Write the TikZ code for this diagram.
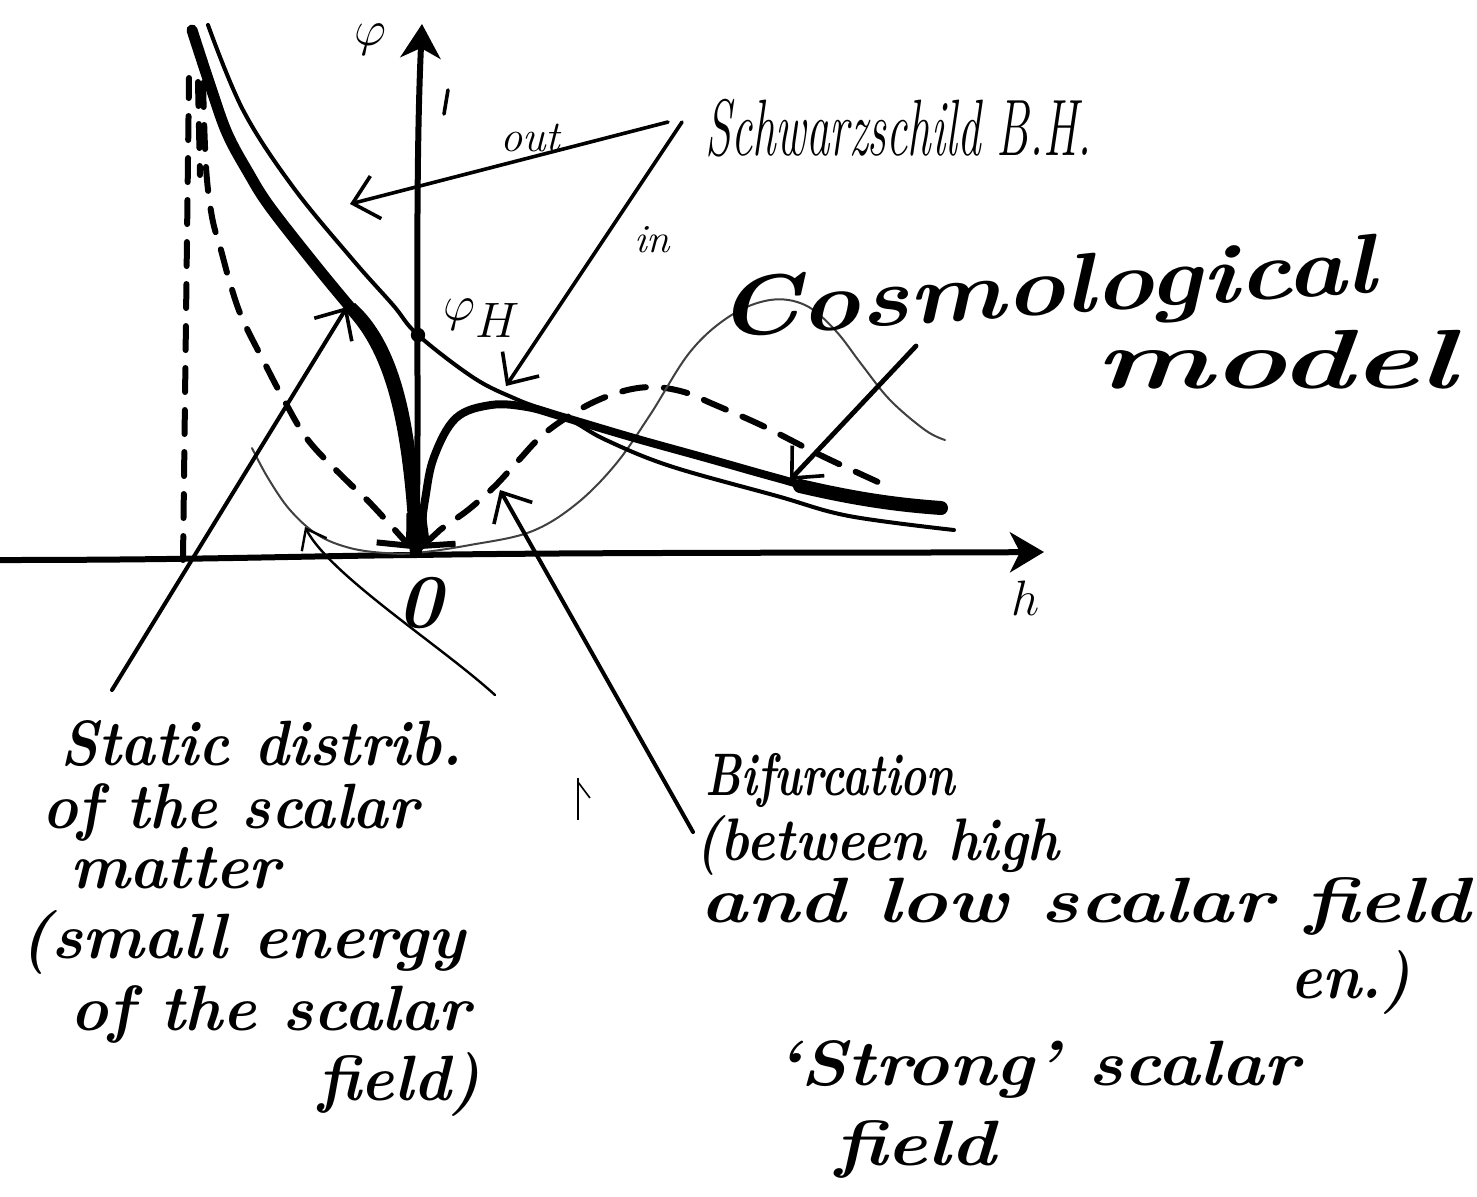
\documentclass[tikz,border=0pt]{standalone}
\usepackage{fontspec}
\usepackage{graphicx}
\usetikzlibrary{arrows.meta}
\newcommand\hw[2]{\resizebox{#1pt}{\height}{#2}}
\begin{document}
\begin{tikzpicture}[x=0.5pt,y=-0.5pt,
  hand/.style={inner sep=0pt,anchor=base west,font=\bfseries\itshape\fontsize{32}{32}\selectfont},
  thinhand/.style={inner sep=0pt,anchor=base west,font=\itshape\fontsize{40}{40}\selectfont},
  lbl/.style={inner sep=0pt,font=\itshape\fontsize{22}{22}\selectfont},
  biglbl/.style={inner sep=0pt,font=\bfseries\itshape\fontsize{38}{38}\selectfont},
  arr/.style={line width=1.8pt,line cap=round,-{Straight Barb[length=12pt,width=22pt,line width=1.8pt]}},
  axisarr/.style={line width=3pt,line cap=round,-{Stealth[length=17pt,width=20pt,inset=5pt]}},
  dsh/.style={line width=3pt,dash pattern=on 12pt off 9pt,line cap=round},
  thincurve/.style={line width=2pt,line cap=round},
  thickcurve/.style={line width=5.5pt,line cap=round},
  graycurve/.style={line width=1pt,black!75,line cap=round}]
\useasboundingbox[fill=white] (0,0) rectangle (1477,1196);

% ---------- coordinates ----------
\coordinate (O) at (416,555);
\coordinate (hL) at (0,560);
\coordinate (hR) at (1044,552);
\coordinate (vT) at (422,24);

% ---------- axes ----------
\draw[axisarr] (hL) .. controls (200,560) and (300,556) .. (O) .. controls (600,552) and (900,553) .. (hR);
\draw[axisarr] (O) .. controls (420,420) and (414,200) .. (vT);
\node[biglbl,font=\itshape\fontsize{40}{40}\selectfont] (phi) at (370,40) {$\varphi$};
\node[biglbl] (zero) at (420,603) {0};
\node[biglbl,font=\itshape\fontsize{38}{38}\selectfont] (hlab) at (1026,598) {$h$};
\draw[line width=1.8pt,line cap=round] (448,90) -- (444,114);

% ---------- dashed curves ----------
\draw[dsh] (183,560) -- (189,78);
\draw[dsh] (198,82) -- (200,175);
\draw[dsh,-{Straight Barb[length=12pt,width=22pt,line width=3pt]}] plot[smooth,tension=0.6] coordinates {(203,83) (206,167) (212,217) (221,250) (230,283) (242,318) (263,360) (284,400) (308,440) (343,477) (372,505) (412,549)};
\draw[dsh,{Straight Barb[length=12pt,width=22pt,line width=3pt]}-] plot[smooth,tension=0.6] coordinates {(420,549) (440,530) (468,510) (495,486) (518,461) (545,433) (584,407) (620,392) (652,387) (684,392) (713,404) (763,426) (820,455) (878,482)};

% ---------- gray thin oscillating curve ----------
\draw[graycurve] plot[smooth,tension=0.6] coordinates {(252,448) (268,478) (290,510) (318,535) (350,548) (385,553) (416,553) (470,545) (530,532) (575,505) (615,465) (650,415) (690,352) (730,316) (770,300) (805,305) (835,330) (862,365) (890,400) (925,430) (945,440)};

% ---------- Schwarzschild thin curve ----------
\draw[thincurve] plot[smooth,tension=0.6] coordinates {(208,25) (243,110) (293,187) (353,260) (393,305) (418,335) (474,378) (516,399) (545,410) (574,422) (606,440) (670,466) (777,496) (849,516) (954,530)};
\fill (418,335) circle (3.6pt);
\node[lbl,font=\itshape\fontsize{36}{36}\selectfont] (phiM) at (482,318) {$\varphi_H$};

% ---------- thick curve ----------
\draw[thickcurve] plot[smooth,tension=0.6] coordinates {(192,30) (210,85) (227,133) (248,172) (270,207) (317,267) (350,307)};
\fill (345,311) .. controls (388,355) and (404,430) .. (410,556) -- (422,556) .. controls (420,430) and (402,345) .. (355,303) -- cycle;
\fill (412,556) -- (424,500) -- (430,545) -- cycle;
\draw[line width=4pt,line cap=round] plot[smooth,tension=0.6] coordinates {(418,552) (425,500) (434,457) (456,418) (491,405) (527,407) (563,417) (634,438) (706,458) (777,478) (849,497) (941,508)};
\draw[line width=7pt,line cap=round] (800,486) .. controls (860,500) and (900,505) .. (941,508);

% ---------- labels and arrows ----------
\node[thinhand] (schw) at (705,155) {\hw{193}{Schwarzschild B.H.}};
\node[lbl] (out) at (530,138) {\hw{30}{out}};
\node[lbl,font=\itshape\fontsize{20}{20}\selectfont] (in) at (652,240) {\hw{18}{in}};
\coordinate (outS) at (668,122);
\coordinate (outT) at (350,204);
\draw[arr] (outS) -- (outT);
\coordinate (inS) at (682,122);
\coordinate (inT) at (506,386);
\draw[arr] (inS) -- (inT);

\node[hand,font=\bfseries\itshape\fontsize{42}{42}\selectfont,rotate=4] (cosmo) at (718,338) {\hw{330}{Cosmological}};
\node[hand,font=\bfseries\itshape\fontsize{42}{42}\selectfont] (model) at (1095,388) {\hw{180}{model}};
\coordinate (cosS) at (916,346);
\coordinate (cosT) at (790,480);
\draw[arr,line width=2.4pt] (cosS) -- (cosT);

% Static block
\node[hand] (st1) at (60,765) {\hw{201}{Static distrib.}};
\node[hand] (st2) at (42,828) {\hw{188}{of the scalar}};
\node[hand] (st3) at (70,888) {\hw{105}{matter}};
\node[hand] (st4) at (20,958) {\hw{222}{(small energy}};
\node[hand] (st5) at (70,1030) {\hw{200}{of the scalar}};
\node[hand] (st6) at (318,1100) {\hw{81}{field)}};
\coordinate (stS) at (112,690);
\coordinate (stT) at (347,307);
\draw[arr,line width=2pt] (stS) -- (stT);

% Bifurcation block
\node[hand,font=\bfseries\itshape\fontsize{30}{30}\selectfont] (bf1) at (705,795) {\hw{125}{Bifurcation}};
\node[hand,font=\bfseries\itshape\fontsize{30}{30}\selectfont] (bf2) at (695,860) {\hw{182}{(between high}};
\node[hand] (bf3) at (700,922) {\hw{385}{and low scalar field}};
\node[hand] (bf4) at (1290,998) {\hw{60}{en.)}};
\node[hand] (bf5) at (775,1085) {\hw{262}{`Strong' scalar}};
\node[hand] (bf6) at (835,1165) {\hw{80}{field}};
\coordinate (bfS) at (693,832);
\coordinate (bfT) at (500,490);
\draw[arr,line width=2pt] (bfS) -- (bfT);

% thin arrow to the gray curve
\coordinate (gS) at (495,695);
\coordinate (gT) at (305,527);
\draw[line width=1.2pt,line cap=round,-{Straight Barb[length=9pt,width=14pt,line width=1.2pt]}] (gS) .. controls (440,645) and (330,575) .. (gT);

% stray mark
\draw[line width=0.8pt] (578,778) -- (578,820);
\draw[line width=0.8pt] (578,782) -- (590,798);
\end{tikzpicture}
\end{document}
